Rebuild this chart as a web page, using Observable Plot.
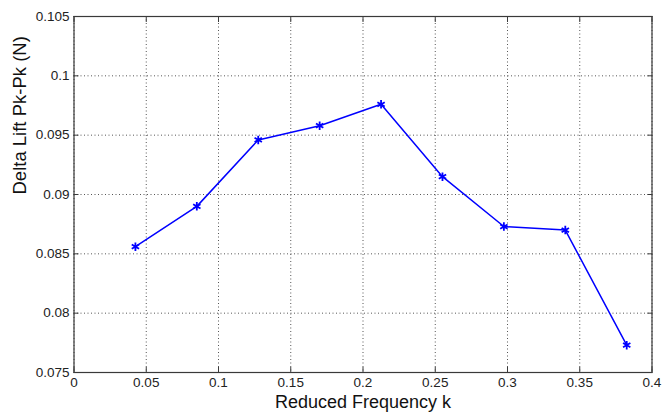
<!DOCTYPE html>
<html>
<head>
<meta charset="utf-8">
<script src="https://cdn.jsdelivr.net/npm/d3@7"></script>
<script src="https://cdn.jsdelivr.net/npm/@observablehq/plot@0.6"></script>
<style>
  html, body { margin: 0; padding: 0; background: #fff; }
  #chart svg { display: block; }
</style>
</head>
<body>
<div id="chart"></div>
<script>
const reducedFrequency = [0.0425, 0.085, 0.1275, 0.17, 0.2125, 0.255, 0.2975, 0.34, 0.3825];
const deltaLift = [0.0856, 0.0890, 0.0946, 0.0958, 0.0976, 0.0915, 0.0873, 0.0870, 0.0773];
const xTicks = [0, 0.05, 0.1, 0.15, 0.2, 0.25, 0.3, 0.35, 0.4];
const xTickLabels = ["0", "0.05", "0.1", "0.15", "0.2", "0.25", "0.3", "0.35", "0.4"];
const yTicks = [0.075, 0.08, 0.085, 0.09, 0.095, 0.1, 0.105];
const yTickLabels = ["0.075", "0.08", "0.085", "0.09", "0.095", "0.1", "0.105"];
const xLabel = "Reduced Frequency k";
const yLabel = "Delta Lift Pk-Pk (N)";

const data = reducedFrequency.map((k, i) => ({k, lift: deltaLift[i]}));
const fmtX = d => xTickLabels[xTicks.findIndex(t => Math.abs(t - d) < 1e-9)] ?? "";
const fmtY = d => yTickLabels[yTicks.findIndex(t => Math.abs(t - d) < 1e-9)] ?? "";

const gridStyle = {stroke: "#555", strokeOpacity: 1, strokeWidth: 1, strokeDasharray: "1,2.5"};
const axisColor = "#3a3a3a";

const chart = Plot.plot({
  width: 662,
  height: 412,
  marginLeft: 73.5,
  marginRight: 10.5,
  marginTop: 16,
  marginBottom: 40,
  style: {background: "#fff", fontFamily: "Arial, 'Liberation Sans', Helvetica, sans-serif", fontSize: "13.5px", color: "#222"},
  x: {domain: [0, 0.4]},
  y: {domain: [0.075, 0.105]},
  marks: [
    Plot.gridX(xTicks, gridStyle),
    Plot.gridY(yTicks, gridStyle),
    Plot.axisX(xTicks, {anchor: "bottom", tickSize: -5, tickPadding: 10, tickFormat: fmtX, label: null, stroke: axisColor, fill: "#222", fontSize: 13.5}),
    Plot.axisX(xTicks, {anchor: "top", tickSize: -5, tickFormat: () => "", label: null, stroke: axisColor}),
    Plot.axisY(yTicks, {anchor: "left", tickSize: -5, tickPadding: 9.5, tickFormat: fmtY, label: null, stroke: axisColor, fill: "#222", fontSize: 13.5}),
    Plot.axisY(yTicks, {anchor: "right", tickSize: -5, tickFormat: () => "", label: null, stroke: axisColor}),
    Plot.frame({stroke: axisColor, strokeWidth: 1.2}),
    Plot.line(data, {x: "k", y: "lift", stroke: "#0000ff", strokeWidth: 1.5}),
    Plot.dot(data, {x: "k", y: "lift", symbol: "asterisk", stroke: "#0000ff", strokeWidth: 1.8, r: 4}),
    Plot.text([xLabel], {frameAnchor: "bottom", dy: 29.5, fontSize: 18, fill: "#111", lineAnchor: "middle"}),
    Plot.text([yLabel], {frameAnchor: "left", dx: -53.5, rotate: -90, fontSize: 18.5, fill: "#111", lineAnchor: "middle"})
  ]
});
document.getElementById("chart").appendChild(chart);
</script>
</body>
</html>
